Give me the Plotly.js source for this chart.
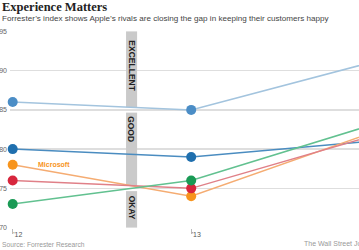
<!DOCTYPE html>
<html>
<head>
<meta charset="utf-8">
<script src="https://cdn.plot.ly/plotly-3.0.1.min.js"></script>
<style>html,body{margin:0;padding:0;background:#fff;overflow:hidden}#chart{width:359px;height:250px}</style>
</head>
<body>
<div id="chart"></div>
<script>
// Data
const years = [2012, 2013, 2014];
const tickVals = [2012, 2013];
const tickText = ["'12", "'13"];
const seriesNames = ["Apple", "Series 2", "Microsoft", "Series 4", "Series 5"];
const appleVals = [86, 85, 91];
const blueVals = [80, 79, 81];
const microsoftVals = [78, 74, 82];
const redVals = [76, 75, 81.6];
const greenVals = [73, 76, 83];
const bandLabels = ["EXCELLENT", "GOOD", "OKAY"];
const bandRanges = [[85.35, 95], [75.35, 84.65], [70, 74.65]];
const bandLabelY = [90.6, 82.6, 72.6];

const allVals = [appleVals, blueVals, microsoftVals, redVals, greenVals];
const lineColors = ['#a3c4de', '#4a8cc0', '#f5ac72', '#e08088', '#62c190'];
const markerColors = ['#4b8dc6', '#1f6fae', '#f7941d', '#d7263d', '#1a9a55'];

const traces = allVals.map((v, i) => ({
  type: 'scatter', mode: 'lines+markers', name: seriesNames[i],
  x: years, y: v,
  line: {color: lineColors[i], width: 1.5},
  marker: {color: markerColors[i], size: 10, line: {width: 0}},
  cliponaxis: false, hoverinfo: 'skip'
}));

const bandX0 = 2012.635, bandX1 = 2012.697;
const shapes = bandRanges.map(r => ({
  type: 'rect', xref: 'x', yref: 'y', x0: bandX0, x1: bandX1, y0: r[0], y1: r[1],
  fillcolor: '#cacaca', line: {width: 0}, layer: 'between'
}));

const annotations = bandLabels.map((t, i) => ({
  text: '<b>' + t + '</b>', xref: 'x', yref: 'y', x: (bandX0 + bandX1) / 2, y: bandLabelY[i],
  textangle: 90, showarrow: false, xanchor: 'center', yanchor: 'middle',
  font: {family: 'Liberation Sans, Arial, sans-serif', size: 8.5, color: '#222'}
}));

const W = 349, H = 197, L = 10, T = 31;
const px = x => (x - L) / W;
const py = y => (T + H - y) / H;

annotations.push(
  {text: '<b>Experience Matters</b>', xref: 'paper', yref: 'paper', x: px(0), y: py(6.5), xanchor: 'left', yanchor: 'middle', showarrow: false,
   font: {family: 'Liberation Serif, serif', size: 12.5, color: '#222'}},
  {text: '<b>Microsoft</b>', xref: 'x', yref: 'y', x: 2012.231, y: 78.0, showarrow: false,
   xanchor: 'center', yanchor: 'middle', font: {family: 'Liberation Sans, Arial, sans-serif', size: 7, color: '#f7941d'}},
  {text: 'Forrester\u2019s index shows Apple\u2019s rivals are closing the gap in keeping their customers happy',
   xref: 'paper', yref: 'paper', x: px(0), y: py(18.5), xanchor: 'left', yanchor: 'middle', showarrow: false,
   font: {family: 'Liberation Sans, Arial, sans-serif', size: 8.1, color: '#444'}},
  {text: 'Source: Forrester Research', xref: 'paper', yref: 'paper', x: px(0), y: py(244), xanchor: 'left', yanchor: 'middle', showarrow: false,
   font: {family: 'Liberation Sans, Arial, sans-serif', size: 6.7, color: '#999'}},
  {text: 'The Wall Street Journal', xref: 'paper', yref: 'paper', x: px(301.5), y: py(243.5), xanchor: 'left', yanchor: 'middle', showarrow: false,
   font: {family: 'Liberation Sans, Arial, sans-serif', size: 7, color: '#999'}}
);

const layout = {
  width: 359, height: 250,
  margin: {l: L, r: 0, t: T, b: 250 - T - H, pad: 0},
  paper_bgcolor: '#fff', plot_bgcolor: '#fff',
  showlegend: false,
  xaxis: {range: [2011.985, 2013.94], tickvals: tickVals, ticktext: tickText, showgrid: false, zeroline: false,
          ticks: 'outside', ticklen: 5, tickcolor: '#bbb', tickwidth: 1, ticklabelposition: 'outside right',
          tickfont: {family: 'Liberation Sans, Arial, sans-serif', size: 7, color: '#555'}, showline: false, fixedrange: true},
  yaxis: {range: [69.95, 95.05], tickvals: [70, 75, 80, 85, 90, 95], showgrid: true, gridcolor: '#dedede', gridwidth: 1.5,
          zeroline: false, ticks: '', ticklabelstandoff: 2,
          tickfont: {family: 'Liberation Sans, Arial, sans-serif', size: 7, color: '#666'}, showline: false, fixedrange: true},
  shapes: shapes, annotations: annotations
};

Plotly.newPlot('chart', traces, layout, {staticPlot: true, displayModeBar: false});
</script>
</body>
</html>
